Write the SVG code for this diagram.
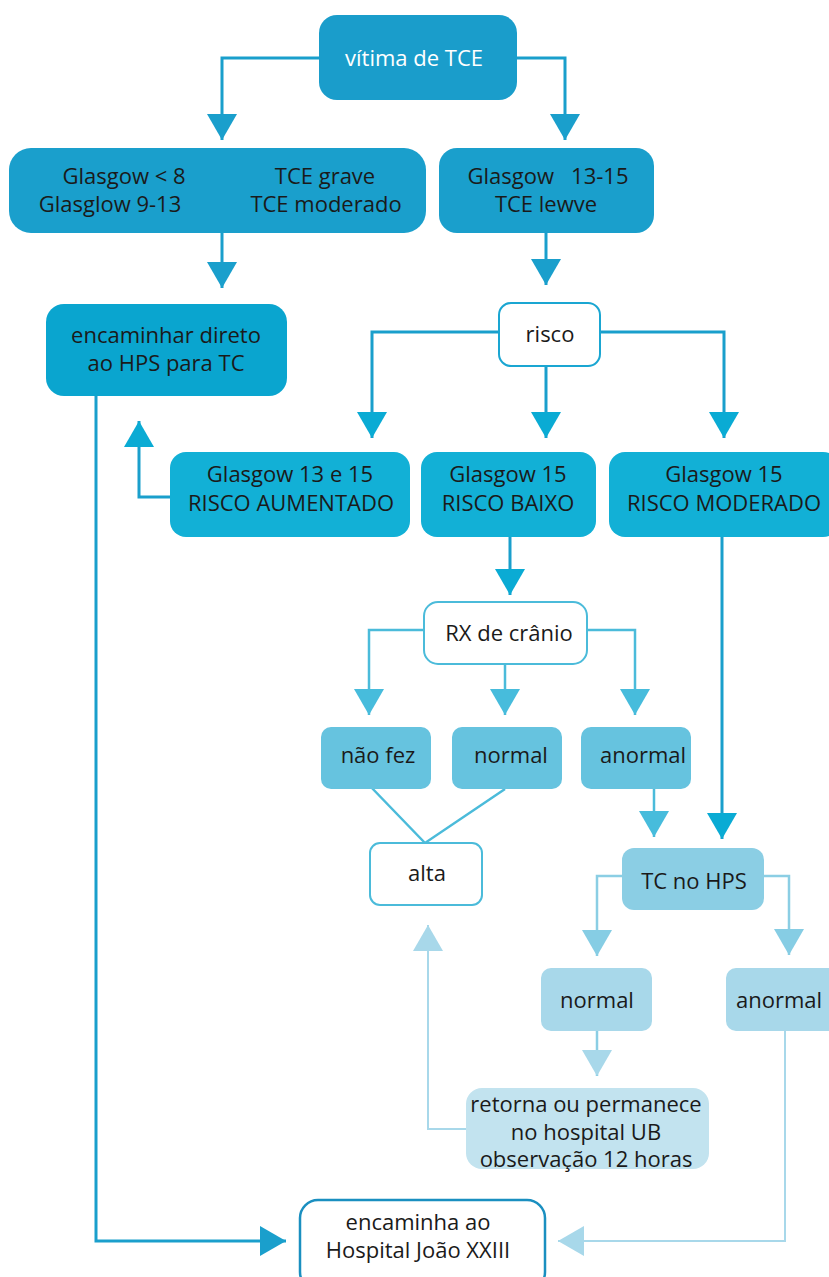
<svg xmlns="http://www.w3.org/2000/svg" width="829" height="1277" viewBox="0 0 829 1277">
<defs>
<style>
text{font-family:"Open Sans","Noto Sans","Liberation Sans",sans-serif;font-size:22px;fill:#1a1a1a;text-anchor:middle}
.w{fill:#ffffff}
.c1{fill:none;stroke:#1a9fcc;stroke-width:3}
.c2{fill:none;stroke:#4bbbda;stroke-width:2.5}
.c3{fill:none;stroke:#8bcee4;stroke-width:2.5}
.c4{fill:none;stroke:#a8d8ea;stroke-width:2}
</style>
<marker id="a1" viewBox="0 0 26 30" refX="26" refY="15" markerWidth="26" markerHeight="30" markerUnits="userSpaceOnUse" orient="auto"><path d="M0,0 L26,15 L0,30 z" fill="#1a9fcc"/></marker>
<marker id="a1b" viewBox="0 0 26 30" refX="26" refY="15" markerWidth="26" markerHeight="30" markerUnits="userSpaceOnUse" orient="auto"><path d="M0,0 L26,15 L0,30 z" fill="#0aabd4"/></marker>
<marker id="a2" viewBox="0 0 26 30" refX="26" refY="15" markerWidth="26" markerHeight="30" markerUnits="userSpaceOnUse" orient="auto"><path d="M0,0 L26,15 L0,30 z" fill="#47bcdc"/></marker>
<marker id="a3" viewBox="0 0 26 30" refX="26" refY="15" markerWidth="26" markerHeight="30" markerUnits="userSpaceOnUse" orient="auto"><path d="M0,0 L26,15 L0,30 z" fill="#86cde4"/></marker>
<marker id="a4" viewBox="0 0 26 30" refX="26" refY="15" markerWidth="26" markerHeight="30" markerUnits="userSpaceOnUse" orient="auto"><path d="M0,0 L26,15 L0,30 z" fill="#a8d8ea"/></marker>
</defs>
<rect width="829" height="1277" fill="#ffffff"/>
<g id="connectors">
<path class="c1" d="M319,58 H222 V140" marker-end="url(#a1)"/>
<path class="c1" d="M517,58 H565 V140" marker-end="url(#a1)"/>
<path class="c1" d="M222,233 V288" marker-end="url(#a1)"/>
<path class="c1" d="M546,233 V285" marker-end="url(#a1)"/>
<path class="c1" d="M499,332 H372 V438" marker-end="url(#a1b)"/>
<path class="c1" d="M546,366 V438" marker-end="url(#a1b)"/>
<path class="c1" d="M600,332 H724 V438" marker-end="url(#a1b)"/>
<path class="c1" d="M170,497 H139 V421" marker-end="url(#a1b)"/>
<path class="c1" d="M96,396 V1241 H286" marker-end="url(#a1)"/>
<path class="c1" d="M510,537 V595" marker-end="url(#a1b)"/>
<path class="c1" d="M722,537 V839" marker-end="url(#a1b)"/>
<path class="c2" d="M424,630 H369 V715" marker-end="url(#a2)"/>
<path class="c2" d="M505,664 V715" marker-end="url(#a2)"/>
<path class="c2" d="M587,630 H635 V715" marker-end="url(#a2)"/>
<path class="c2" d="M369,785 L425,843 L505,789"/>
<path class="c2" d="M654,789 V837" marker-end="url(#a2)"/>
<path class="c3" d="M622,876 H597 V956" marker-end="url(#a3)"/>
<path class="c3" d="M764,876 H789 V955" marker-end="url(#a3)"/>
<path class="c3" d="M597,1031 V1076" marker-end="url(#a4)"/>
<path class="c4" d="M466,1129 H428 V925" marker-end="url(#a4)"/>
<path class="c4" d="M785,1031 V1241 H558" marker-end="url(#a4)"/>
</g>
<g id="n-vitima">
<rect x="319" y="15" width="198" height="85" rx="18" fill="#1a9dcb"/>
<text x="414" y="66" class="w">vítima de TCE</text>
</g>
<g id="n-grave">
<rect x="9" y="148" width="417" height="85" rx="22" fill="#1a9fcc"/>
<text x="124" y="184">Glasgow &lt; 8</text>
<text x="325" y="184">TCE grave</text>
<text x="110" y="212">Glasglow 9-13</text>
<text x="326" y="212">TCE moderado</text>
</g>
<g id="n-leve">
<rect x="439" y="148" width="215" height="85" rx="18" fill="#1a9fcc"/>
<text x="548" y="184" xml:space="preserve">Glasgow   13-15</text>
<text x="546" y="212">TCE lewve</text>
</g>
<g id="n-hps">
<rect x="46" y="304" width="241" height="92" rx="18" fill="#0aa5cf"/>
<text x="166" y="343">encaminhar direto</text>
<text x="166" y="371">ao HPS para TC</text>
</g>
<g id="n-risco">
<rect x="499" y="303" width="101" height="63" rx="12" fill="#ffffff" stroke="#1aa6d2" stroke-width="2"/>
<text x="550" y="342">risco</text>
</g>
<g id="n-aumentado">
<rect x="170" y="452" width="240" height="85" rx="16" fill="#12b0d6"/>
<text x="290" y="482">Glasgow 13 e 15</text>
<text x="291" y="511">RISCO AUMENTADO</text>
</g>
<g id="n-baixo">
<rect x="421" y="452" width="175" height="85" rx="16" fill="#12b0d6"/>
<text x="508" y="482">Glasgow 15</text>
<text x="508" y="511">RISCO BAIXO</text>
</g>
<g id="n-moderado">
<rect x="609" y="452" width="230" height="85" rx="16" fill="#12b0d6"/>
<text x="724" y="482">Glasgow 15</text>
<text x="724" y="511">RISCO MODERADO</text>
</g>
<g id="n-rx">
<rect x="424" y="602" width="163" height="62" rx="14" fill="#ffffff" stroke="#4bbbda" stroke-width="2"/>
<text x="509" y="641">RX de crânio</text>
</g>
<g id="n-naofez">
<rect x="321" y="727" width="110" height="62" rx="10" fill="#66c3df"/>
<text x="378" y="763">não fez</text>
</g>
<g id="n-normal1">
<rect x="452" y="727" width="110" height="62" rx="10" fill="#66c3df"/>
<text x="511" y="763">normal</text>
</g>
<g id="n-anormal1">
<rect x="581" y="727" width="110" height="62" rx="10" fill="#66c3df"/>
<text x="643" y="763">anormal</text>
</g>
<g id="n-alta">
<rect x="370" y="843" width="112" height="62" rx="10" fill="#ffffff" stroke="#4bbbda" stroke-width="2"/>
<text x="427" y="881">alta</text>
</g>
<g id="n-tc">
<rect x="622" y="848" width="142" height="62" rx="12" fill="#8bcee4"/>
<text x="694" y="889">TC no HPS</text>
</g>
<g id="n-normal2">
<rect x="541" y="968" width="111" height="63" rx="10" fill="#a8d8ea"/>
<text x="597" y="1008">normal</text>
</g>
<g id="n-anormal2">
<rect x="726" y="968" width="113" height="63" rx="10" fill="#a8d8ea"/>
<text x="779" y="1008">anormal</text>
</g>
<g id="n-retorna">
<rect x="466" y="1088" width="243" height="81" rx="16" fill="#c2e3ef"/>
<text x="586" y="1112">retorna ou permanece</text>
<text x="586" y="1140">no hospital UB</text>
<text x="586" y="1167">observação 12 horas</text>
</g>
<g id="n-joao">
<rect x="300" y="1200" width="245" height="90" rx="18" fill="#ffffff" stroke="#1a8fc0" stroke-width="2.5"/>
<text x="418" y="1230">encaminha ao</text>
<text x="418" y="1258">Hospital João XXIII</text>
</g>
</svg>
